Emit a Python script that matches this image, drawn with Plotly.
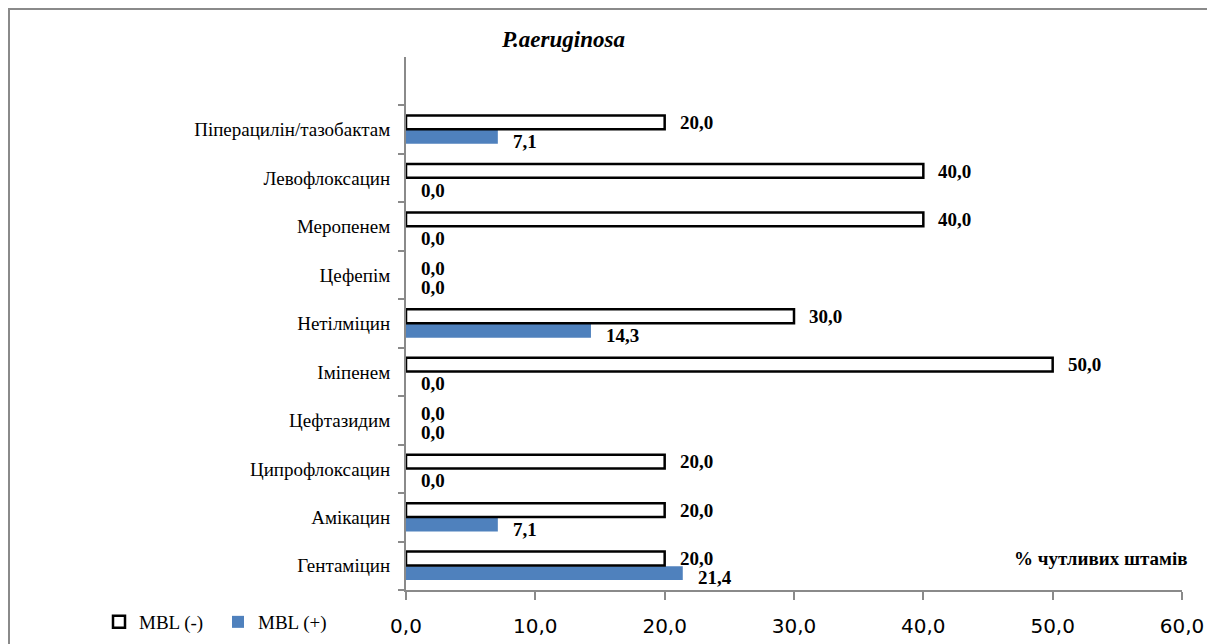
import plotly.graph_objects as go

categories = ["Гентаміцин", "Амікацин", "Ципрофлоксацин", "Цефтазидим", "Іміпенем",
              "Нетілміцин", "Цефепім", "Меропенем", "Левофлоксацин", "Піперацилін/тазобактам"]
mbl_neg = [20.0, 20.0, 20.0, 0.0, 50.0, 30.0, 0.0, 40.0, 40.0, 20.0]
mbl_pos = [21.4, 7.1, 0.0, 0.0, 0.0, 14.3, 0.0, 0.0, 0.0, 7.1]
x_ticks = [0, 10, 20, 30, 40, 50, 60]

OFF = 8  # page body margin
W, H = 1215, 644
ML, MR, MT, MB = 406 - OFF, 1215 - (1182 - OFF), 57 - OFF, 644 - (591 - OFF)
PW, PH = W - ML - MR, H - MT - MB


def px_x(p):
    return (p - OFF - ML) / PW


def px_y(p):
    return (H - MB - (p - OFF)) / PH


fig = go.Figure()
fig.add_trace(go.Bar(
    y=categories, x=mbl_pos, orientation="h", name="MBL (+)",
    marker=dict(color="#4F81BD", line=dict(width=0)),
))
fig.add_trace(go.Bar(
    y=categories, x=mbl_neg, orientation="h", name="MBL (-)",
    marker=dict(color="white",
                line=dict(color="black", width=[2.5 if v > 0 else 0 for v in mbl_neg])),
))

label_font = dict(family="Liberation Serif", size=19, color="black")
for cat, v in zip(categories, mbl_neg):
    fig.add_annotation(x=v, y=cat, text="<b>%s</b>" % f"{v:.1f}".replace(".", ","),
                       showarrow=False, xanchor="left", yanchor="middle",
                       xshift=13, yshift=7, font=label_font)
for cat, v in zip(categories, mbl_pos):
    fig.add_annotation(x=v, y=cat, text="<b>%s</b>" % f"{v:.1f}".replace(".", ","),
                       showarrow=False, xanchor="left", yanchor="middle",
                       xshift=13, yshift=-12, font=label_font)

fig.add_annotation(x=px_x(563), y=px_y(39), xref="paper", yref="paper",
                   text="<b><i>P.aeruginosa</i></b>", showarrow=False,
                   xanchor="center", yanchor="middle",
                   font=dict(family="Liberation Serif", size=23, color="black"))
fig.add_annotation(x=px_x(1189), y=px_y(559), xref="paper", yref="paper",
                   text="<b>% чутливих штамів</b>", showarrow=False,
                   xanchor="right", yanchor="middle",
                   font=dict(family="Liberation Serif", size=19, color="black"))

fig.add_shape(type="rect", xref="paper", yref="paper",
              x0=px_x(OFF + 1), x1=px_x(1240), y0=px_y(680), y1=px_y(OFF + 1),
              line=dict(color="#8a8a8a", width=2), fillcolor="rgba(0,0,0,0)", layer="below")

fig.update_layout(
    width=W, height=H,
    margin=dict(l=ML, r=MR, t=MT, b=MB),
    paper_bgcolor="white", plot_bgcolor="white",
    barmode="group", bargap=0.4, bargroupgap=0.05,
    separators=", ",
    showlegend=True,
    legend=dict(orientation="h", traceorder="reversed", x=px_x(99), y=px_y(622),
                xanchor="left", yanchor="middle", entrywidth=74, entrywidthmode="pixels",
                font=dict(family="Liberation Serif", size=19, color="black"),
                bgcolor="rgba(0,0,0,0)"),
    xaxis=dict(range=[0, 60], tickvals=x_ticks, tickformat=".1f",
               showgrid=False, zeroline=False, showline=True, linecolor="#8a8a8a", linewidth=2,
               ticks="outside", ticklen=8, tickcolor="#8a8a8a", tickwidth=1.5,
               ticklabelstandoff=9,
               tickfont=dict(family="DejaVu Sans", size=20, color="black")),
    yaxis=dict(type="category", categoryorder="array", categoryarray=categories,
               range=[-0.5, 10.5], tickson="boundaries",
               showgrid=False, zeroline=False, showline=True, linecolor="#8a8a8a", linewidth=2,
               ticks="outside", ticklen=6, tickcolor="#8a8a8a", tickwidth=1.5,
               ticklabelstandoff=10,
               tickfont=dict(family="Liberation Serif", size=19, color="black")),
)

fig.write_html("out.html")
